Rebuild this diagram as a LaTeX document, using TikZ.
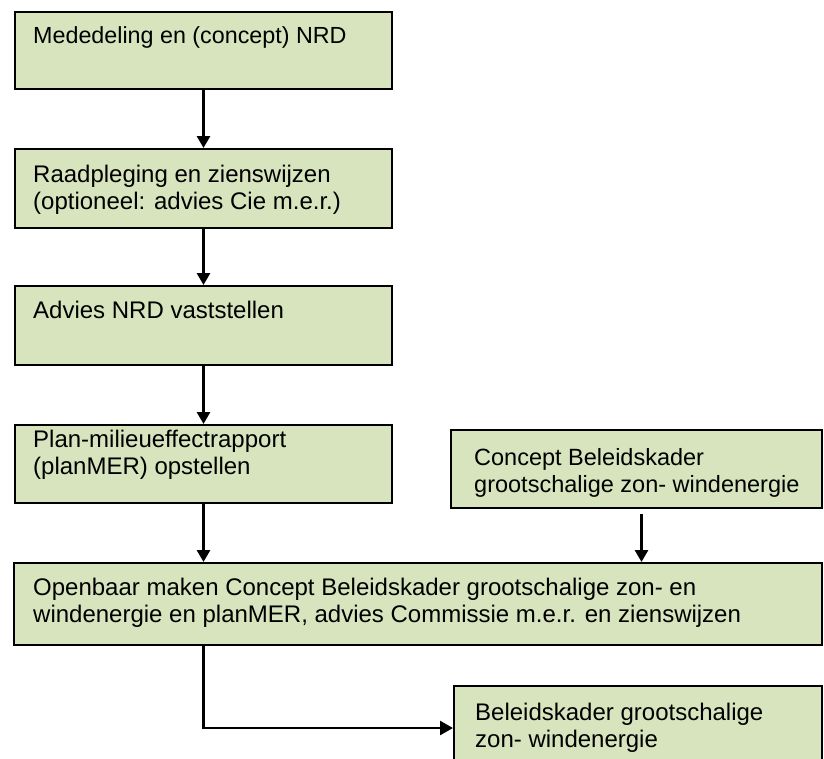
\documentclass[tikz,border=0pt]{standalone}
\usepackage{fontspec}
\setmainfont{Liberation Sans}
\usetikzlibrary{arrows.meta,calc}
\definecolor{boxfill}{HTML}{D7E4BD}
\tikzset{
  box/.style={draw=black, line width=2pt, fill=boxfill, rectangle, inner sep=0pt, anchor=north west},
  txt/.style={anchor=base west, inner sep=0pt, font=\fontsize{24}{27}\selectfont},
  flow/.style={line width=2.8pt, -{Triangle[length=12pt,width=13pt]}},
}
\newcommand{\lines}[1]{\parbox[t]{780pt}{\raggedright #1}}
\begin{document}
\begin{tikzpicture}[x=1pt,y=-1pt]
\clip (0,0) rectangle (824,758);
\fill[white] (0,0) rectangle (824,758);
% boxes
\node[box, minimum width=377pt, minimum height=77pt] (b1) at (14,11) {};
\node[box, minimum width=377pt, minimum height=79pt] (b2) at (14,148) {};
\node[box, minimum width=377pt, minimum height=79pt] (b3) at (14,285) {};
\node[box, minimum width=377pt, minimum height=78pt] (b4) at (14,424) {};
\node[box, minimum width=371pt, minimum height=78pt] (b5) at (450,429) {};
\node[box, minimum width=808pt, minimum height=82pt] (big) at (13,562) {};
\node[box, minimum width=368pt, minimum height=84pt] (b6) at (453,685) {};
% texts
\node[txt, font=\fontsize{23.3}{27}\selectfont] (t1) at (33,43) {\lines{Mededeling en (concept) NRD}};
\node[txt] (t2) at (33,182) {\lines{Raadpleging en zienswijzen\\(optioneel: advies Cie m.e.r.)}};
\node[txt] (t3) at (33,318) {\lines{Advies NRD vaststellen}};
\node[txt] (t4) at (33,447) {\lines{Plan-milieueffectrapport\\(planMER) opstellen}};
\node[txt, font=\fontsize{23.5}{27}\selectfont] (t5) at (474,465) {\lines{Concept Beleidskader\\grootschalige zon- windenergie}};
\node[txt] (t6) at (33,595) {\lines{Openbaar maken Concept Beleidskader grootschalige zon- en\\windenergie en planMER, advies Commissie m.e.r. en zienswijzen}};
\node[txt] (t7) at (475,720) {\lines{Beleidskader grootschalige\\zon- windenergie}};
% connectors
\draw[flow] (b1.south) -- (b2.north);
\draw[flow] (b2.south) -- (b3.north);
\draw[flow] (b3.south) -- (b4.north);
\draw[flow] (b4.south) -- (b4.south |- big.north);
\coordinate (c5) at ([xshift=5pt,yshift=-5pt]b5.south);
\draw[flow] (c5) -- (c5 |- big.north);
\draw[line width=2.5pt, -{Triangle[length=13pt,width=14pt]}] (b4.south |- big.south) |- (b6.west);
\end{tikzpicture}
\end{document}
